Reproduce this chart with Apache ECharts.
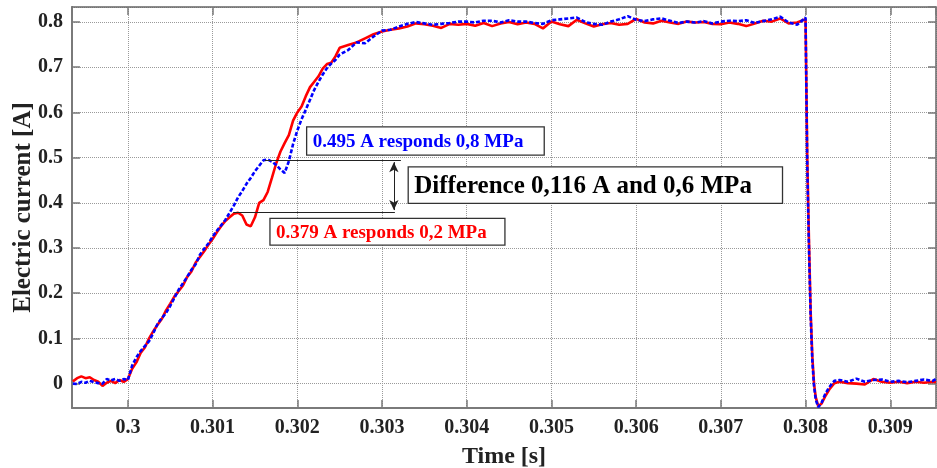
<!DOCTYPE html>
<html>
<head>
<meta charset="utf-8">
<title>Electric current</title>
<script src="https://cdn.jsdelivr.net/npm/echarts@6/dist/echarts.min.js"></script>
<style>
    html, body { margin: 0; padding: 0; background: #fff; }
    #currentDiv { width: 937px; height: 468px; }
</style>
</head>
<body>
<div id="currentDiv"></div>
<script>
// time [s]
var timeS = [
    0.29935, 0.29940, 0.29945, 0.29950, 0.29955, 0.29960, 0.29965, 0.29970, 0.29975, 0.29980, 0.29985, 0.29990, 0.29995, 0.30000,
    0.30005, 0.30010, 0.30015, 0.30020, 0.30025, 0.30030, 0.30035, 0.30040, 0.30045, 0.30050,
    0.30055, 0.30060, 0.30065, 0.30070, 0.30075, 0.30080, 0.30085, 0.30090, 0.30095, 0.30100,
    0.30105, 0.30110, 0.30115, 0.30120, 0.30125, 0.30130, 0.30135, 0.30140, 0.30145, 0.30150,
    0.30155, 0.30160, 0.30165, 0.30170, 0.30175, 0.30180, 0.30185, 0.30190, 0.30195, 0.30200,
    0.30205, 0.30210, 0.30215, 0.30220, 0.30225, 0.30230, 0.30235, 0.30240, 0.30245, 0.30250,
    0.3026, 0.3027, 0.3028, 0.3029, 0.3030, 0.3031, 0.3032, 0.3033, 0.3034, 0.3035,
    0.3036, 0.3037, 0.3038, 0.3039, 0.3040, 0.3041, 0.3042, 0.3043, 0.3044, 0.3045,
    0.3046, 0.3047, 0.3048, 0.3049, 0.3050, 0.3051, 0.3052, 0.3053, 0.3054, 0.3055,
    0.3056, 0.3057, 0.3058, 0.3059, 0.3060, 0.3061, 0.3062, 0.3063, 0.3064, 0.3065,
    0.3066, 0.3067, 0.3068, 0.3069, 0.3070, 0.3071, 0.3072, 0.3073, 0.3074, 0.3075,
    0.3076, 0.3077, 0.3078, 0.3079, 0.3080,
    0.30802, 0.30804, 0.30806, 0.30808, 0.30810, 0.30812, 0.30815, 0.30819, 0.30823, 0.30828, 0.30834,
    0.3084, 0.3085, 0.3086, 0.3087, 0.3088, 0.3089, 0.3090, 0.3091, 0.3092, 0.3093, 0.3094, 0.3095, 0.30954
];
// red curve, electric current [A]
var redA = [
    0.005, 0.012, 0.016, 0.012, 0.014, 0.008, 0.004, -0.005, 0.002, 0.006, 0.001, 0.008, 0.004, 0.010,
    0.033, 0.047, 0.068, 0.080, 0.100, 0.116, 0.130, 0.143, 0.162, 0.177,
    0.193, 0.205, 0.217, 0.236, 0.248, 0.268, 0.280, 0.293, 0.307, 0.320,
    0.335, 0.348, 0.360, 0.368, 0.376, 0.378, 0.372, 0.352, 0.348, 0.368,
    0.400, 0.406, 0.424, 0.455, 0.487, 0.513, 0.532, 0.550, 0.582, 0.600,
    0.613, 0.636, 0.656, 0.668, 0.680, 0.697, 0.707, 0.710, 0.724, 0.743,
    0.749, 0.755, 0.764, 0.773, 0.779, 0.783, 0.786, 0.790, 0.797, 0.795,
    0.792, 0.787, 0.796, 0.794, 0.796, 0.792, 0.798, 0.791, 0.797, 0.800,
    0.795, 0.799, 0.796, 0.786, 0.801, 0.795, 0.791, 0.805, 0.797, 0.790,
    0.795, 0.798, 0.794, 0.796, 0.807, 0.799, 0.797, 0.803, 0.799, 0.796,
    0.801, 0.799, 0.800, 0.796, 0.795, 0.799, 0.796, 0.791, 0.797, 0.803,
    0.801, 0.808, 0.797, 0.799, 0.806,
    0.50, 0.32, 0.16, 0.06, 0.00, -0.03, -0.05, -0.044, -0.029, -0.013, 0.001,
    0.004, 0.001, 0.000, -0.002, 0.010, 0.004, 0.002, 0.004, 0.001, 0.004, 0.002, 0.004, 0.003
];
// blue dashed curve, electric current [A]
var blueA = [
    0.000, -0.001, 0.004, 0.002, 0.006, 0.003, 0.001, 0.000, 0.010, 0.007, 0.010, 0.006, 0.010, 0.008,
    0.040, 0.058, 0.072, 0.083, 0.094, 0.112, 0.132, 0.145, 0.156, 0.172,
    0.190, 0.208, 0.222, 0.236, 0.252, 0.264, 0.285, 0.298, 0.310, 0.325,
    0.338, 0.350, 0.362, 0.378, 0.394, 0.412, 0.426, 0.442, 0.455, 0.470,
    0.482, 0.494, 0.496, 0.491, 0.484, 0.474, 0.466, 0.492, 0.530, 0.560,
    0.585, 0.606, 0.628, 0.650, 0.668, 0.684, 0.698, 0.708, 0.716, 0.728,
    0.738, 0.755, 0.753, 0.768, 0.781, 0.783, 0.790, 0.796, 0.800, 0.797,
    0.794, 0.796, 0.798, 0.801, 0.801, 0.799, 0.803, 0.803, 0.799, 0.804,
    0.801, 0.801, 0.798, 0.796, 0.804, 0.806, 0.808, 0.810, 0.800, 0.796,
    0.794, 0.801, 0.806, 0.813, 0.805, 0.802, 0.806, 0.808, 0.803, 0.798,
    0.801, 0.799, 0.802, 0.797, 0.801, 0.803, 0.802, 0.804, 0.798, 0.802,
    0.806, 0.812, 0.799, 0.794, 0.810,
    0.48, 0.30, 0.15, 0.05, -0.005, -0.035, -0.052, -0.042, -0.024, -0.008, 0.006,
    0.008, 0.004, 0.011, 0.004, 0.008, 0.009, 0.004, 0.006, 0.003, 0.006, 0.009, 0.006, 0.010
];
var xRange = [0.29934, 0.30954];
var yRange = [-0.054, 0.8333];

var serifFont = '"Liberation Serif", "Times New Roman", serif';

function pairs(xs, ys) {
    return xs.map(function (t, i) {
        return [t, ys[i]];
    });
}

function textBox(chart, tl, br, text, color, size) {
    var p1 = chart.convertToPixel({ xAxisIndex: 0, yAxisIndex: 0 }, tl);
    var p2 = chart.convertToPixel({ xAxisIndex: 0, yAxisIndex: 0 }, br);
    return {
        type: 'group',
        z: 100,
        children: [
            {
                type: 'rect',
                shape: { x: p1[0], y: p1[1], width: p2[0] - p1[0], height: p2[1] - p1[1] },
                style: { fill: '#fff', stroke: '#333', lineWidth: 1.3 }
            },
            {
                type: 'text',
                x: p1[0] + 6,
                y: (p1[1] + p2[1]) / 2 + 1,
                style: {
                    text: text,
                    fill: color,
                    font: 'bold ' + size + 'px ' + serifFont,
                    verticalAlign: 'middle'
                }
            }
        ]
    };
}

function drawCurrentChart() {
    var myChart = echarts.init(document.getElementById('currentDiv'));
    var axisGray = '#7a7a7a';
    var frameX = {
        type: 'value',
        position: 'top',
        min: xRange[0],
        max: xRange[1],
        splitNumber: 10,
        minInterval: 0.001,
        maxInterval: 0.001,
        axisLine: { show: true, onZero: false, lineStyle: { color: '#666', width: 1.5 } },
        axisTick: { show: true, inside: true, length: 8, lineStyle: { color: axisGray, width: 1.5 } },
        axisLabel: { show: false },
        splitLine: { show: false }
    };
    var frameY = {
        type: 'value',
        position: 'right',
        min: yRange[0],
        max: yRange[1],
        splitNumber: 9,
        minInterval: 0.1,
        maxInterval: 0.1,
        axisLine: { show: true, onZero: false, lineStyle: { color: '#666', width: 1.5 } },
        axisTick: { show: true, inside: true, length: 8, lineStyle: { color: axisGray, width: 1.5 } },
        axisLabel: { show: false },
        splitLine: { show: false }
    };
    myChart.setOption({
        animation: false,
        grid: {
            left: 72,
            right: 1,
            top: 7,
            bottom: 60,
            containLabel: false,
            outerBoundsMode: 'none'
        },
        xAxis: [{
            type: 'value',
            min: xRange[0],
            max: xRange[1],
            splitNumber: 10,
            minInterval: 0.001,
            maxInterval: 0.001,
            name: 'Time [s]',
            nameLocation: 'middle',
            nameGap: 37,
            nameTextStyle: { fontFamily: serifFont, fontWeight: 'bold', fontSize: 24, color: '#222' },
            axisLine: { show: true, onZero: false, lineStyle: { color: axisGray, width: 2 } },
            axisTick: { show: true, inside: true, length: 8, lineStyle: { color: axisGray, width: 1.5 } },
            axisLabel: {
                showMinLabel: false,
                showMaxLabel: false,
                margin: 10,
                color: '#222',
                fontFamily: serifFont,
                fontWeight: 'bold',
                fontSize: 20
            },
            splitLine: { show: true, lineStyle: { type: 'dotted', color: '#9a9a9a', width: 1 } }
        }, frameX],
        yAxis: [{
            type: 'value',
            min: yRange[0],
            max: yRange[1],
            splitNumber: 9,
            minInterval: 0.1,
            maxInterval: 0.1,
            name: 'Electric current [A]',
            nameLocation: 'middle',
            nameGap: 36,
            nameMoveOverlap: false,
            nameTextStyle: { fontFamily: serifFont, fontWeight: 'bold', fontSize: 25, color: '#222' },
            axisLine: { show: true, onZero: false, lineStyle: { color: axisGray, width: 2 } },
            axisTick: { show: true, inside: true, length: 8, lineStyle: { color: axisGray, width: 1.5 } },
            axisLabel: {
                showMinLabel: false,
                showMaxLabel: false,
                margin: 9,
                color: '#222',
                fontFamily: serifFont,
                fontWeight: 'bold',
                fontSize: 20
            },
            splitLine: { show: true, lineStyle: { type: 'dotted', color: '#9a9a9a', width: 1 } }
        }, frameY],
        series: [
            {
                name: 'red',
                type: 'line',
                showSymbol: false,
                data: pairs(timeS, redA),
                lineStyle: { color: '#ff0000', width: 2.6 },
                markLine: {
                    silent: true,
                    symbol: 'none',
                    label: { show: false },
                    lineStyle: { color: '#222', width: 1, type: 'solid' },
                    data: [
                        [{ coord: [0.301617, 0.495] }, { coord: [0.303223, 0.495] }],
                        [{ coord: [0.301243, 0.379] }, { coord: [0.303152, 0.379] }],
                        [
                            { coord: [0.303140, 0.490], symbol: 'arrow', symbolSize: [7, 10] },
                            { coord: [0.303140, 0.384], symbol: 'arrow', symbolSize: [7, 10] }
                        ]
                    ]
                }
            },
            {
                name: 'blue',
                type: 'line',
                showSymbol: false,
                data: pairs(timeS, blueA),
                lineStyle: { color: '#0000ff', width: 2.6, type: [4, 2] }
            }
        ]
    });

    myChart.setOption({
        graphic: [
            textBox(myChart, [0.302110, 0.5682], [0.304915, 0.5055], '0.495 A responds 0,8 MPa', '#0000ff', 19),
            textBox(myChart, [0.301677, 0.3654], [0.304451, 0.3062], '0.379 A responds 0,2 MPa', '#ff0000', 19),
            textBox(myChart, [0.303309, 0.4796], [0.307728, 0.3986], 'Difference 0,116 A and 0,6 MPa', '#000', 25)
        ]
    });
}

drawCurrentChart();
</script>
</body>
</html>
